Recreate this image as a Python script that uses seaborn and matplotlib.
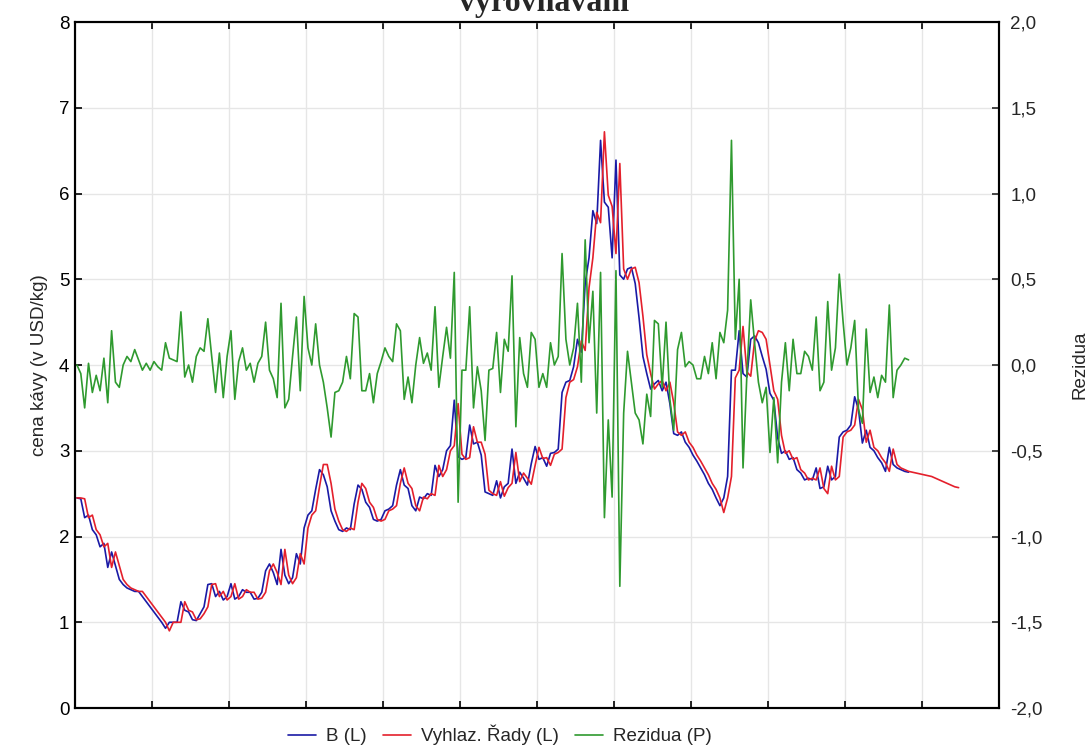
import numpy as np
import pandas as pd
import seaborn as sns
import matplotlib
matplotlib.use("Agg")
import matplotlib.pyplot as plt
from matplotlib.ticker import MultipleLocator, FuncFormatter, NullFormatter

# cena kavy (USD/kg), mesicni hodnoty
b_vals = [
    2.45, 2.44, 2.22, 2.25, 2.08, 2.02, 1.88, 1.92, 1.64, 1.82,
    1.66, 1.50, 1.44, 1.40, 1.38, 1.36, 1.36, 1.30, 1.24, 1.18,
    1.12, 1.06, 1.00, 0.93, 1.00, 1.00, 1.00, 1.24, 1.14, 1.12,
    1.03, 1.02, 1.10, 1.18, 1.44, 1.45, 1.30, 1.36, 1.26, 1.30,
    1.45, 1.27, 1.30, 1.38, 1.35, 1.35, 1.27, 1.28, 1.35, 1.60,
    1.68, 1.58, 1.44, 1.85, 1.55, 1.45, 1.52, 1.80, 1.68, 2.10,
    2.25, 2.30, 2.55, 2.78, 2.72, 2.58, 2.30, 2.18, 2.08, 2.06,
    2.10, 2.08, 2.38, 2.60, 2.55, 2.40, 2.34, 2.20, 2.18, 2.20,
    2.30, 2.32, 2.36, 2.60, 2.78, 2.60, 2.56, 2.36, 2.30, 2.46,
    2.44, 2.50, 2.48, 2.83, 2.70, 2.78, 3.00, 3.06, 3.59, 2.93,
    2.90, 2.92, 3.30, 3.08, 3.10, 2.95, 2.52, 2.50, 2.48, 2.65,
    2.45, 2.58, 2.62, 3.02, 2.62, 2.75, 2.68, 2.60, 2.85, 3.05,
    2.90, 2.92, 2.82, 2.97, 2.98, 3.02, 3.68, 3.80, 3.82, 3.98,
    4.30, 4.15, 4.95, 5.25, 5.80, 5.65, 6.62, 5.90, 5.84, 5.25,
    6.39, 5.05, 5.00, 5.12, 5.14, 4.95, 4.55, 4.10, 3.90, 3.72,
    3.78, 3.82, 3.70, 3.80, 3.55, 3.20, 3.18, 3.22, 3.10, 3.04,
    2.95, 2.88, 2.80, 2.72, 2.62, 2.55, 2.45, 2.36, 2.45, 2.70,
    3.94, 3.94, 4.40, 3.90, 3.86, 4.30, 4.34, 4.26, 4.10, 3.95,
    3.67, 3.59, 3.15, 2.97, 3.00, 2.90, 2.92, 2.78, 2.74, 2.66,
    2.68, 2.66, 2.80, 2.56, 2.58, 2.82, 2.66, 2.70, 3.16, 3.22,
    3.24, 3.30, 3.63, 3.48, 3.09, 3.24, 3.04, 3.00, 2.92, 2.86,
    2.76, 3.04, 2.84, 2.80, 2.78, 2.76, 2.75,
]

# vyhlazena rada (vcetne predpovedi na konci)
vyhlaz_vals = [
    2.45, 2.45, 2.44, 2.22, 2.25, 2.08, 2.02, 1.88, 1.92, 1.64,
    1.82, 1.66, 1.50, 1.44, 1.40, 1.38, 1.36, 1.36, 1.30, 1.24,
    1.18, 1.12, 1.06, 1.00, 0.90, 1.00, 1.00, 1.00, 1.24, 1.14,
    1.12, 1.03, 1.04, 1.10, 1.18, 1.44, 1.45, 1.30, 1.36, 1.26,
    1.30, 1.45, 1.27, 1.30, 1.38, 1.35, 1.35, 1.27, 1.28, 1.35,
    1.60, 1.68, 1.58, 1.44, 1.85, 1.55, 1.45, 1.52, 1.80, 1.68,
    2.10, 2.25, 2.30, 2.58, 2.84, 2.84, 2.62, 2.32, 2.18, 2.08,
    2.06, 2.10, 2.08, 2.40, 2.62, 2.56, 2.40, 2.34, 2.20, 2.18,
    2.20, 2.30, 2.32, 2.36, 2.62, 2.80, 2.62, 2.56, 2.36, 2.30,
    2.46, 2.44, 2.50, 2.48, 2.83, 2.70, 2.78, 3.00, 3.06, 3.55,
    2.96, 2.90, 2.92, 3.28, 3.10, 3.10, 2.96, 2.54, 2.50, 2.48,
    2.64, 2.47, 2.57, 2.62, 2.98, 2.64, 2.74, 2.68, 2.61, 2.83,
    3.04, 2.91, 2.92, 2.83, 2.96, 2.98, 3.02, 3.62, 3.80, 3.83,
    3.98, 4.28, 4.17, 4.90, 5.25, 5.78, 5.66, 6.72, 5.98, 5.85,
    5.30, 6.35, 5.12, 5.00, 5.12, 5.14, 4.96, 4.57, 4.12, 3.90,
    3.72, 3.78, 3.82, 3.70, 3.80, 3.56, 3.22, 3.18, 3.22, 3.10,
    3.04, 2.95, 2.88, 2.80, 2.72, 2.62, 2.55, 2.45, 2.28, 2.45,
    2.70, 3.85, 3.94, 4.45, 3.92, 3.87, 4.28, 4.40, 4.38, 4.30,
    4.00, 3.70, 3.60, 3.18, 2.97, 3.00, 2.90, 2.92, 2.78, 2.74,
    2.66, 2.68, 2.66, 2.80, 2.56, 2.50, 2.82, 2.66, 2.70, 3.16,
    3.22, 3.24, 3.30, 3.60, 3.48, 3.10, 3.24, 3.04, 3.00, 2.92,
    2.86, 2.76, 3.02, 2.84, 2.80, 2.78, 2.76, 2.75, 2.74, 2.73,
    2.72, 2.71, 2.70, 2.68, 2.66, 2.64, 2.62, 2.60, 2.58, 2.57,
]

# rezidua (prava osa)
rezidua_vals = [
    0.00, -0.05, -0.25, 0.01, -0.16, -0.06, -0.15, 0.04, -0.22, 0.20,
    -0.10, -0.13, 0.00, 0.05, 0.02, 0.09, 0.03, -0.03, 0.01, -0.03,
    0.02, -0.01, -0.03, 0.13, 0.04, 0.03, 0.02, 0.31, -0.07, 0.00,
    -0.10, 0.05, 0.10, 0.08, 0.27, 0.05, -0.16, 0.07, -0.19, 0.05,
    0.20, -0.20, 0.02, 0.10, -0.03, 0.01, -0.10, 0.01, 0.05, 0.25,
    -0.03, -0.08, -0.19, 0.36, -0.25, -0.20, 0.05, 0.28, -0.15, 0.40,
    0.10, 0.00, 0.24, 0.00, -0.10, -0.25, -0.42, -0.16, -0.15, -0.10,
    0.05, -0.08, 0.30, 0.28, -0.15, -0.15, -0.05, -0.22, -0.05, 0.02,
    0.10, 0.05, 0.02, 0.24, 0.20, -0.20, -0.07, -0.22, 0.00, 0.16,
    0.01, 0.07, -0.03, 0.34, -0.13, 0.05, 0.22, 0.04, 0.54, -0.80,
    -0.03, -0.03, 0.34, -0.25, -0.01, -0.15, -0.44, -0.03, -0.02, 0.19,
    -0.16, 0.15, 0.08, 0.52, -0.36, 0.16, -0.05, -0.13, 0.19, 0.15,
    -0.13, -0.05, -0.13, 0.13, 0.00, 0.05, 0.65, 0.15, 0.00, 0.10,
    0.36, -0.10, 0.73, 0.13, 0.43, -0.28, 0.54, -0.89, -0.32, -0.77,
    0.55, -1.29, -0.28, 0.08, -0.10, -0.28, -0.32, -0.46, -0.17, -0.30,
    0.26, 0.24, -0.13, 0.25, -0.20, -0.38, 0.09, 0.19, -0.01, 0.02,
    0.00, -0.08, -0.08, 0.05, -0.05, 0.13, -0.08, 0.19, 0.13, 0.32,
    1.31, 0.15, 0.50, -0.60, -0.06, 0.38, 0.13, -0.10, -0.22, -0.13,
    -0.51, -0.19, -0.57, -0.10, 0.13, -0.15, 0.15, -0.05, -0.05, 0.08,
    0.05, -0.03, 0.28, -0.15, -0.10, 0.37, -0.03, 0.10, 0.53, 0.25,
    0.00, 0.10, 0.26, -0.26, -0.34, 0.21, -0.16, -0.07, -0.19, -0.06,
    -0.10, 0.35, -0.19, -0.03, 0.00, 0.04, 0.03,
]

labels = ["B (L)", "Vyhlaz. Řady (L)", "Rezidua (P)"]
colors = ["#1a1aa6", "#e4202c", "#2f9a2f"]

sns.set_style("white")
plt.rcParams['font.family'] = ['Liberation Sans', 'DejaVu Sans']

df_b = pd.DataFrame({"t": np.arange(len(b_vals)), "v": b_vals})
df_r = pd.DataFrame({"t": np.arange(len(vyhlaz_vals)), "v": vyhlaz_vals})
df_e = pd.DataFrame({"t": np.arange(len(rezidua_vals)), "v": rezidua_vals})

fig = plt.figure(figsize=(10.89, 7.49), dpi=100)
ax = fig.add_axes([0.0689, 0.0547, 0.8485, 0.9159])
ax2 = ax.twinx()

sns.lineplot(data=df_b, x="t", y="v", ax=ax, color=colors[0], lw=1.2, label=labels[0])
sns.lineplot(data=df_r, x="t", y="v", ax=ax, color=colors[1], lw=1.2, label=labels[1])
sns.lineplot(data=df_e, x="t", y="v", ax=ax2, color=colors[2], lw=1.2, label=labels[2])

ax.set_xlim(-0.5, 239.5)
ax.set_ylim(0, 8)
ax2.set_ylim(-2, 2)
ax.set_xticks(np.arange(-0.5, 240, 20))
ax.xaxis.set_major_formatter(NullFormatter())
ax.yaxis.set_major_locator(MultipleLocator(1))
ax2.yaxis.set_major_locator(MultipleLocator(0.5))
ax2.yaxis.set_major_formatter(FuncFormatter(lambda v, p: f"{v:.1f}".replace(".", ",")))

ax.grid(True, color="#e6e6e6", lw=1.0)
ax.set_axisbelow(True)
ax.tick_params(axis="both", direction="in", length=5, width=1.2, labelsize=13.5,
               top=True, bottom=True, colors="black")
ax.tick_params(axis="y", pad=4)
ax2.tick_params(axis="y", direction="in", length=5, width=1.2, labelsize=13.5, pad=8)
for a in (ax, ax2):
    for s in a.spines.values():
        s.set_color("black")
        s.set_linewidth(1.5)

ax.set_xlabel("")
ax.set_ylabel("cena kávy (v USD/kg)", fontsize=13.5, labelpad=8)
ax2.set_ylabel("Rezidua", fontsize=13.5, labelpad=21)

h1, l1 = ax.get_legend_handles_labels()
h2, l2 = ax2.get_legend_handles_labels()
ax.get_legend().remove()
ax2.get_legend().remove()
fig.legend(h1 + h2, l1 + l2, loc="center", bbox_to_anchor=(0.459, 0.0187), ncol=3,
           frameon=False, fontsize=13.5, handlelength=1.5, handletextpad=0.5,
           columnspacing=0.9)

fig.text(0.5, 0.9853, "vyrovnávání", ha="center", va="baseline", fontsize=23,
         fontweight="bold", family=["Liberation Serif", "DejaVu Serif"])

fig.savefig("out.png", dpi=100)
